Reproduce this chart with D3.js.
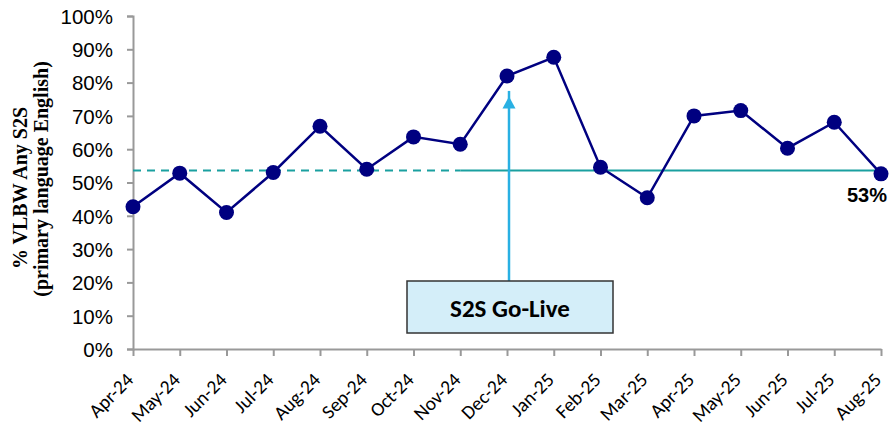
<!DOCTYPE html>
<html><head><meta charset="utf-8">
<script src="https://cdn.jsdelivr.net/npm/d3@7"></script>
<style>body{margin:0;background:#fff}</style>
</head><body>
<svg id="c" width="891" height="428"></svg>
<script>
const months = ["Apr-24","May-24","Jun-24","Jul-24","Aug-24","Sep-24","Oct-24","Nov-24","Dec-24","Jan-25","Feb-25","Mar-25","Apr-25","May-25","Jun-25","Jul-25","Aug-25"];
const values = [42.7,52.8,41.0,53.0,66.9,54.0,63.7,61.5,82.0,87.6,54.6,45.4,70.0,71.6,60.3,68.1,52.6];
const yTicks = [0,10,20,30,40,50,60,70,80,90,100];
const baseline = 53.6;
const baselineDashEnd = "Nov-24";
const goLiveMonth = "Dec-24";
const goLiveLabel = "S2S Go-Live";
const lastLabel = "53%";
const yTitle = ["% VLBW Any S2S","(primary language English)"];

const svg = d3.select("#c");
const L = 133, R = 881, T = 16, B = 349;
const x = d3.scalePoint().domain(months).range([L, R]);
const y = d3.scaleLinear().domain([0,100]).range([B, T]);

// axes
const yAxis = svg.append("g").attr("transform",`translate(${L},0)`)
  .call(d3.axisLeft(y).tickValues(yTicks).tickSize(6).tickFormat(d=>d+"%"));
yAxis.select(".domain").attr("stroke","#999").attr("stroke-width",2);
yAxis.selectAll(".tick line").attr("stroke","#999").attr("stroke-width",2);
yAxis.selectAll(".tick text").attr("font-family","Liberation Sans, Arial, sans-serif").attr("font-size",20.5).attr("fill","#000").attr("x",-20).attr("dy","0.36em");

const xAxis = svg.append("g").attr("transform",`translate(0,${B})`)
  .call(d3.axisBottom(x).tickSize(7).tickSizeOuter(0));
xAxis.select(".domain").attr("stroke","#999").attr("stroke-width",2);
xAxis.selectAll(".tick line").attr("stroke","#999").attr("stroke-width",2);
xAxis.selectAll(".tick text").attr("font-family","Carlito, Lato, sans-serif").attr("font-size",19.5).attr("fill","#000")
  .attr("text-anchor","end").attr("dy",0).attr("y",0)
  .attr("transform","translate(1,32) rotate(-45)");

// y title
const yt = svg.append("g").attr("font-family","Liberation Serif, Times New Roman, serif").attr("font-weight","bold").attr("font-size",20);
yt.append("text").attr("transform","translate(0,188) rotate(-90)").attr("text-anchor","middle").attr("x",0).attr("y",27).text(yTitle[0]);
yt.append("text").attr("transform","translate(0,179) rotate(-90)").attr("text-anchor","middle").attr("x",0).attr("y",48).text(yTitle[1]);

// baseline
svg.append("line").attr("x1",L).attr("x2",x(baselineDashEnd)).attr("y1",y(baseline)).attr("y2",y(baseline))
  .attr("stroke","#1aa0a0").attr("stroke-width",2).attr("stroke-dasharray","8,6");
svg.append("line").attr("x1",x(baselineDashEnd)).attr("x2",R).attr("y1",y(baseline)).attr("y2",y(baseline))
  .attr("stroke","#1aa0a0").attr("stroke-width",2);

// arrow
const ax = x(goLiveMonth)+2;
svg.append("line").attr("x1",ax).attr("x2",ax).attr("y1",281).attr("y2",y(77.5))
  .attr("stroke","#29b0e3").attr("stroke-width",2.5);
svg.append("path").attr("d",`M${ax},${y(75.8)} l-6.5,12 l13,0 Z`).attr("fill","#29b0e3");

// box
svg.append("rect").attr("x",407).attr("y",281).attr("width",206).attr("height",52)
  .attr("fill","#d4eef9").attr("stroke","#333").attr("stroke-width",1.5);
svg.append("text").attr("x",510).attr("y",317).attr("text-anchor","middle")
  .attr("font-family","Carlito, Lato, sans-serif").attr("font-weight","bold").attr("font-size",25).text(goLiveLabel);

// line
svg.append("path").datum(values)
  .attr("d",d3.line().x((d,i)=>x(months[i])).y(d=>y(d)))
  .attr("fill","none").attr("stroke","#000080").attr("stroke-width",2.5);
svg.selectAll("circle.p").data(values).enter().append("circle")
  .attr("cx",(d,i)=>x(months[i])).attr("cy",d=>y(d)).attr("r",7.5).attr("fill","#000080");

svg.append("text").attr("x",887).attr("y",202).attr("text-anchor","end")
  .attr("font-family","Liberation Sans, Arial, sans-serif").attr("font-weight","bold").attr("font-size",20).text(lastLabel);
</script>
</body></html>
